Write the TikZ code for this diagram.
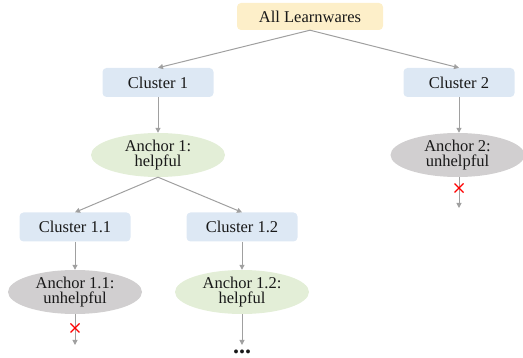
\documentclass[tikz,border=0pt]{standalone}
\usepackage{fontspec}
\setmainfont{Liberation Serif}
\newfontfamily\labelface{Liberation Serif}
\usetikzlibrary{shapes.geometric,arrows.meta,calc}
\definecolor{rootfill}{HTML}{FDEFC9}
\definecolor{clusterfill}{HTML}{DDE8F4}
\definecolor{goodfill}{HTML}{E3EED7}
\definecolor{badfill}{HTML}{D1CFD0}
\definecolor{linkgray}{HTML}{A0A0A0}
\tikzset{
  x=1pt, y=-1pt,
  every node/.style={font=\labelface\fontsize{16.5}{18}\selectfont, text=black!90},
  rootbox/.style={fill=rootfill, rounded corners=4pt, minimum width=146pt, minimum height=27pt, inner sep=0pt},
  clusterbox/.style={fill=clusterfill, rounded corners=4pt, minimum width=111pt, minimum height=29pt, inner sep=0pt},
  anchorgood/.style={ellipse, fill=goodfill, minimum width=134pt, minimum height=44pt, inner sep=0pt, align=center},
  anchorbad/.style={ellipse, fill=badfill, minimum width=134pt, minimum height=44pt, inner sep=0pt, align=center},
  link/.style={draw=linkgray, line width=1pt, -{Triangle[length=5pt,width=5pt]}},
  nogo/.style={draw=red, line width=1.1pt},
}
\begin{document}
\begin{tikzpicture}
\useasboundingbox (0,0) rectangle (523,358);

% tree nodes
\node[rootbox] (root) at (310,16.5) {All Learnwares};
\node[clusterbox] (c1) at (158,82.5) {Cluster 1};
\node[clusterbox] (c2) at (459,82.5) {Cluster 2};
\node[anchorgood] (a1) at (158,155) {Anchor 1:\\[-3pt]helpful};
\node[anchorbad] (a2) at (457.5,155) {Anchor 2:\\[-3pt]unhelpful};
\node[clusterbox] (c11) at (75,227) {Cluster 1.1};
\node[clusterbox] (c12) at (242,227) {Cluster 1.2};
\node[anchorbad] (a11) at (75,292) {Anchor 1.1:\\[-3pt]unhelpful};
\node[anchorgood] (a12) at (242,292) {Anchor 1.2:\\[-3pt]helpful};

% loose ends below the leaf anchors
\coordinate (e2) at (459,208);
\coordinate (e11) at (75,345);
\coordinate (e12) at (242,345);
\node[inner sep=0pt, anchor=base, font=\labelface\bfseries\fontsize{24}{26}\selectfont] (more) at (242,353.5) {...};

% connectors
\draw[link] (root.south) -- (c1.north);
\draw[link] (root.south) -- (c2.north);
\draw[link] (c1) -- (a1);
\draw[link] (c2.south) -- (a2.north -| c2.south);
\draw[link] (a1.south) -- (c11.north);
\draw[link] (a1.south) -- (c12.north);
\draw[link] (c11) -- (a11);
\draw[link] (c12) -- (a12);
\draw[link] (a2.south -| e2) -- (e2);
\draw[link] (a11.south) -- (e11);
\draw[link] (a12.south) -- (e12);

% red crosses: the search stops here
\coordinate (x2) at (459,188);
\coordinate (x11) at (75,328);
\foreach \p in {x2,x11} {
  \draw[nogo] ($(\p)+(-4.5,-4.5)$) -- ($(\p)+(4.5,4.5)$);
  \draw[nogo] ($(\p)+(-4.5,4.5)$) -- ($(\p)+(4.5,-4.5)$);
}
\end{tikzpicture}
\end{document}
